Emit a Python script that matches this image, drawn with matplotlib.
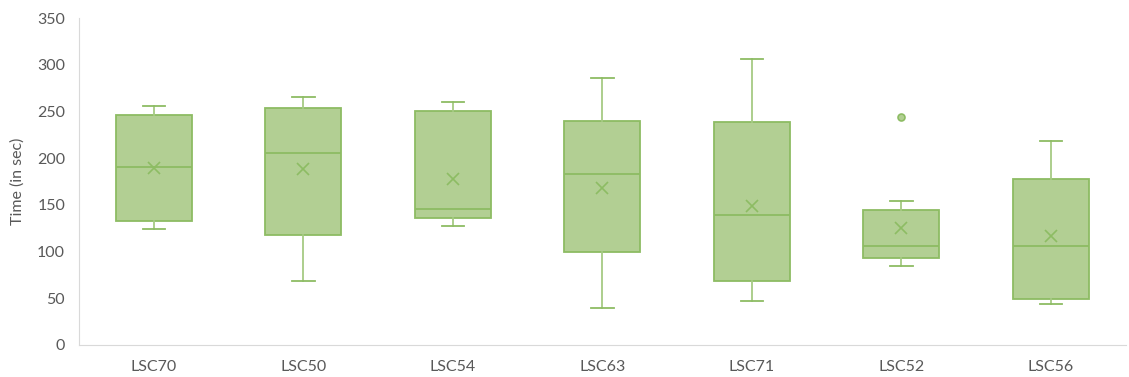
import matplotlib
matplotlib.use("Agg")
import matplotlib.pyplot as plt

# Box statistics per sample (seconds)
labels = ["LSC70", "LSC50", "LSC54", "LSC63", "LSC71", "LSC52", "LSC56"]
whis_lo = [124, 68, 127, 40, 47, 85, 44]
q1 = [133, 118, 136, 100, 68, 93, 49]
median = [191, 206, 146, 183, 139, 106, 106]
q3 = [246, 254, 251, 240, 239, 144, 178]
whis_hi = [256, 265, 260, 286, 306, 154, 218]
mean = [189, 188, 178, 168, 149, 125, 117]
outliers = [[], [], [], [], [], [244], []]

fill = "#b2cf93"
edge = "#8dbc63"
text_col = "#595959"

plt.rcParams['font.family'] = ['Lato', 'DejaVu Sans']

stats = []
for i in range(len(labels)):
    stats.append(dict(label=labels[i], whislo=whis_lo[i], q1=q1[i], med=median[i],
                      q3=q3[i], whishi=whis_hi[i], mean=mean[i], fliers=outliers[i]))

fig = plt.figure(figsize=(11.29, 3.77), dpi=100)
ax = fig.add_axes([0.070, 0.085, 0.927, 0.867])

ax.bxp(stats, positions=range(len(labels)), widths=0.51, capwidths=0.15,
       patch_artist=True, showmeans=True,
       boxprops=dict(facecolor=fill, edgecolor=edge, linewidth=1.3),
       medianprops=dict(color=edge, linewidth=1.3),
       whiskerprops=dict(color="#a6ca84", linewidth=1.3),
       capprops=dict(color=edge, linewidth=1.3),
       meanprops=dict(marker="x", markeredgecolor=edge, markersize=8.5,
                      markeredgewidth=1.2),
       flierprops=dict(marker="o", markerfacecolor=fill, markeredgecolor=edge,
                       markersize=5, markeredgewidth=1.2))

ax.set_xlim(-0.5, len(labels) - 0.5)
ax.set_ylim(0, 350)
ax.set_yticks(range(0, 351, 50))
ax.set_xticks(range(len(labels)))
ax.set_xticklabels(labels)
ax.tick_params(axis="both", length=0, labelsize=11.5, labelcolor=text_col)
ax.tick_params(axis="x", pad=11)
ax.tick_params(axis="y", pad=10)
ax.set_ylabel("Time (in sec)", fontsize=11.5, color=text_col, labelpad=9)

for s in ["top", "right"]:
    ax.spines[s].set_visible(False)
ax.spines["left"].set_color("#d9d9d9")
ax.spines["bottom"].set_color("#d9d9d9")

fig.savefig("out.png", dpi=100)
